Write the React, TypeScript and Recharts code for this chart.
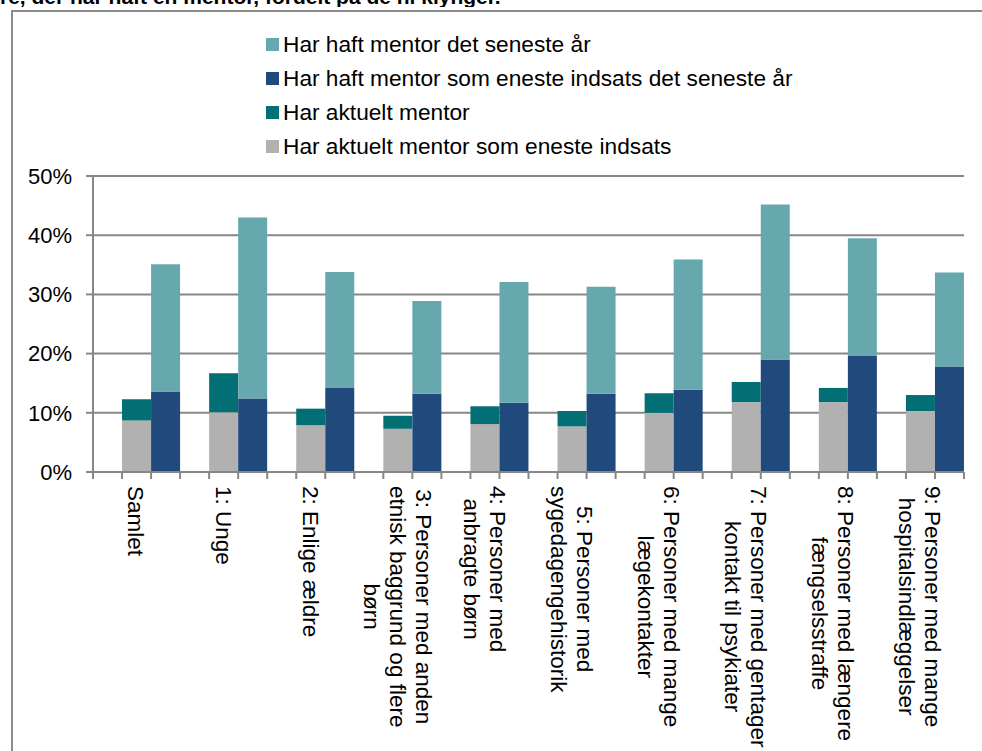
import React from "react";
import { BarChart, Bar, XAxis, YAxis, CartesianGrid, Legend } from "recharts";

const categories = [
    "Samlet",
    "1: Unge",
    "2: Enlige ældre",
    "3: Personer med anden\netnisk baggrund og flere\nbørn",
    "4: Personer med\nanbragte børn",
    "5: Personer med\nsygedagengehistorik",
    "6: Personer med mange\nlægekontakter",
    "7: Personer med gentager\nkontakt til psykiater",
    "8: Personer med længere\nfængselsstraffe",
    "9: Personer med mange\nhospitalsindlæggelser",
];

// levels (top of each stacked bar), in percent
const aktueltEneste = [8.7, 10.1, 7.9, 7.3, 8.1, 7.7, 10.0, 11.8, 11.8, 10.3];
const aktueltMentor = [12.3, 16.7, 10.7, 9.5, 11.1, 10.3, 13.3, 15.2, 14.2, 13.0];
const haftEneste = [13.6, 12.4, 14.2, 13.2, 11.7, 13.2, 13.9, 19.0, 19.6, 17.8];
const haftMentor = [35.1, 43.0, 33.8, 28.9, 32.1, 31.3, 35.9, 45.2, 39.5, 33.7];

const yTicks = [0, 10, 20, 30, 40, 50];

const series = [
    { key: "haft", name: "Har haft mentor det seneste år", color: "#67a8ae" },
    { key: "haftEneste", name: "Har haft mentor som eneste indsats det seneste år", color: "#214a7c" },
    { key: "aktuelt", name: "Har aktuelt mentor", color: "#016f73" },
    { key: "aktueltEneste", name: "Har aktuelt mentor som eneste indsats", color: "#b1b1b1" },
];
const colorOf = (k: string) => series.find((s) => s.key === k)!.color;
const nameOf = (k: string) => series.find((s) => s.key === k)!.name;

// each group takes three slots on the axis: empty, "aktuelt" bar, "haft" bar
const data = categories.flatMap((label, i) => [
    { slot: `g${i}`, label: "" },
    {
        slot: `a${i}`,
        label,
        aktueltEneste: aktueltEneste[i],
        aktuelt: +(aktueltMentor[i] - aktueltEneste[i]).toFixed(1),
    },
    {
        slot: `h${i}`,
        label: "",
        haftEneste: haftEneste[i],
        haft: +(haftMentor[i] - haftEneste[i]).toFixed(1),
    },
]);

const W = 982;
const H = 751;
const MARGIN = { top: 176, right: 18, left: 13, bottom: 0 };
const Y_W = 80;
const PLOT_W = W - MARGIN.left - MARGIN.right - Y_W;
const SLOT_W = PLOT_W / data.length;
const FONT = "'Liberation Sans', Arial, sans-serif";
const FS = 22;
const LEGEND_FS = 22.7;
const LABEL_FS = 22.5;
const AXIS = "#878787";

let ctx: CanvasRenderingContext2D | null = null;
function textWidth(t: string) {
    if (!ctx) ctx = document.createElement("canvas").getContext("2d");
    if (!ctx) return t.length * LABEL_FS * 0.5;
    ctx.font = `${LABEL_FS}px ${FONT}`;
    return ctx.measureText(t).width;
}

function CategoryTick(props: any) {
    const { x, y, index } = props;
    const row = data[index];
    const L = 26;
    const lines = row && row.label ? row.label.split("\n") : [];
    const maxW = Math.max(0, ...lines.map(textWidth));
    const d0 = 0.36 * LABEL_FS - ((lines.length - 1) * L) / 2;
    return (
        <g>
            <line x1={x - SLOT_W / 2} x2={x - SLOT_W / 2} y1={y} y2={y + 7} stroke={AXIS} strokeWidth={2} />
            {index === data.length - 1 && (
                <line x1={x + SLOT_W / 2} x2={x + SLOT_W / 2} y1={y} y2={y + 7} stroke={AXIS} strokeWidth={2} />
            )}
            {lines.length > 0 && (
                <g transform={`translate(${x},${y + 14}) rotate(90)`}>
                    {lines.map((ln: string, i: number) => (
                        <text
                            key={i}
                            x={maxW / 2}
                            y={d0 + i * L}
                            textAnchor="middle"
                            fontSize={LABEL_FS}
                            fontFamily={FONT}
                            fill="#000"
                        >
                            {ln}
                        </text>
                    ))}
                </g>
            )}
        </g>
    );
}

function LegendBox() {
    return (
        <div style={{ fontFamily: FONT, fontSize: LEGEND_FS, color: "#000" }}>
            {series.map((s) => (
                <div key={s.key} style={{ height: 34, display: "flex", alignItems: "center", whiteSpace: "nowrap" }}>
                    <span style={{ width: 13, height: 13, background: s.color, marginRight: 4, display: "inline-block" }} />
                    {s.name}
                </div>
            ))}
        </div>
    );
}

export default function App() {
    return (
        <div style={{ position: "fixed", left: 0, top: 0, width: W, height: H, background: "#fff", overflow: "hidden" }}>
            <div style={{ position: "absolute", left: 0, top: 0, width: W, height: 7, overflow: "hidden" }}>
                <div
                    style={{
                        position: "absolute",
                        left: 0,
                        top: -14,
                        fontFamily: FONT,
                        fontWeight: "bold",
                        fontSize: 21,
                        lineHeight: "21px",
                        whiteSpace: "nowrap",
                    }}
                >
                    re, der har haft en mentor, fordelt på de ni klynger.
                </div>
            </div>
            <div
                style={{
                    position: "absolute",
                    left: 11,
                    top: 10,
                    right: -10,
                    bottom: -10,
                    borderLeft: "2px solid #8c8c8c",
                    borderTop: "2px solid #8c8c8c",
                }}
            />
            <div style={{ position: "absolute", left: 0, top: 0 }}>
                <BarChart width={W} height={H} data={data} margin={MARGIN} barCategoryGap={0} barGap={0}>
                    <CartesianGrid vertical={false} stroke={AXIS} strokeWidth={2} />
                    <XAxis
                        dataKey="slot"
                        height={H - 472}
                        interval={0}
                        tickSize={0}
                        tickMargin={0}
                        tickLine={false}
                        axisLine={{ stroke: AXIS, strokeWidth: 2 }}
                        tick={<CategoryTick />}
                    />
                    <YAxis
                        width={Y_W}
                        domain={[0, 50]}
                        ticks={yTicks}
                        tickFormatter={(v) => `${v}%`}
                        tickSize={7}
                        tickMargin={14}
                        tickLine={{ stroke: AXIS, strokeWidth: 2 }}
                        axisLine={{ stroke: AXIS, strokeWidth: 2 }}
                        tick={{ fill: "#000", fontSize: FS, fontFamily: FONT }}
                    />
                    <Legend
                        layout="vertical"
                        align="center"
                        verticalAlign="middle"
                        wrapperStyle={{ top: 27, left: 266, width: 620, height: 140 }}
                        content={() => <LegendBox />}
                    />
                    <Bar dataKey="aktueltEneste" name={nameOf("aktueltEneste")} stackId="s" fill={colorOf("aktueltEneste")} isAnimationActive={false} />
                    <Bar dataKey="aktuelt" name={nameOf("aktuelt")} stackId="s" fill={colorOf("aktuelt")} isAnimationActive={false} />
                    <Bar dataKey="haftEneste" name={nameOf("haftEneste")} stackId="s" fill={colorOf("haftEneste")} isAnimationActive={false} />
                    <Bar dataKey="haft" name={nameOf("haft")} stackId="s" fill={colorOf("haft")} isAnimationActive={false} />
                </BarChart>
            </div>
        </div>
    );
}
